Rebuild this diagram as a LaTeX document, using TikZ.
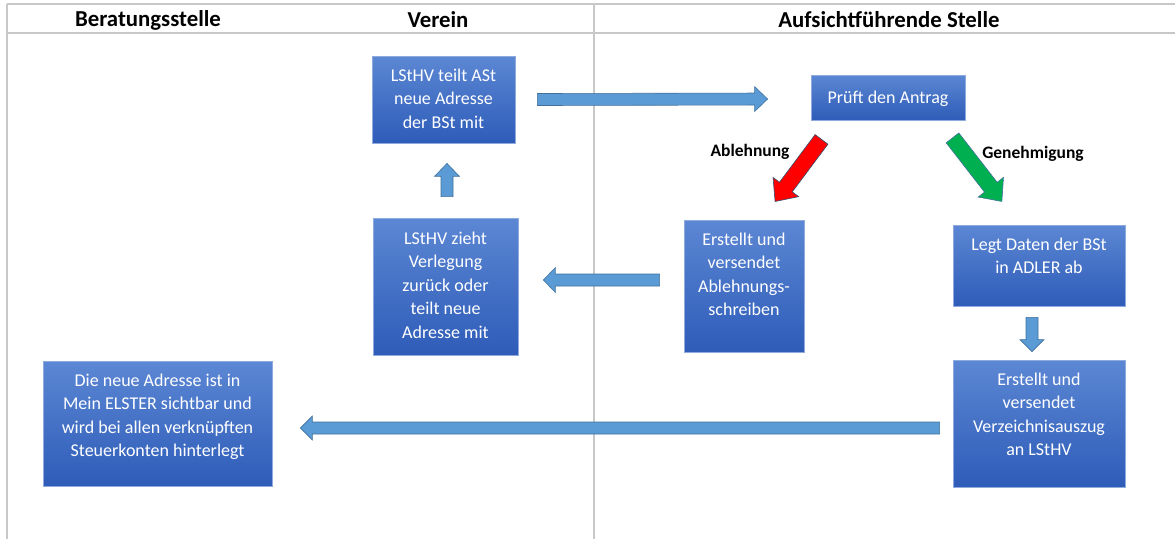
\documentclass[tikz,border=0pt]{standalone}
\usepackage{fontspec}
\setmainfont{Carlito}
\usetikzlibrary{calc}
\definecolor{boxtop}{RGB}{92,135,212}
\definecolor{boxbot}{RGB}{46,92,184}
\definecolor{boxedge}{RGB}{143,170,220}
\definecolor{arrfill}{RGB}{91,155,213}
\definecolor{arredge}{RGB}{65,113,156}
\definecolor{redfill}{RGB}{255,0,0}
\definecolor{greenfill}{RGB}{0,176,80}
\definecolor{gridline}{RGB}{200,200,200}
\newcommand\boxtext[4][25]{\parbox[c][#3pt][t]{#2pt}{\centering\rule{0pt}{#1pt}#4}}
% block arrow: #1 style, #2 from, #3 to, #4 shaft half width, #5 head half width, #6 head length
\newcommand\blockarrow[6]{%
  \pgfpointdiff{\pgfpointanchor{#2}{center}}{\pgfpointanchor{#3}{center}}%
  \pgfgetlastxy{\badx}{\bady}%
  \pgfmathsetmacro\bang{atan2(\bady,\badx)}%
  \pgfmathsetmacro\blen{veclen(\badx,\bady)}%
  \begin{scope}[shift={(#2)}, rotate=\bang]
    \draw[#1] (0,-#4) -- ({\blen-#6},-#4) -- ({\blen-#6},-#5) -- (\blen,0)
      -- ({\blen-#6},#5) -- ({\blen-#6},#4) -- (0,#4) -- cycle;
  \end{scope}}
\begin{document}
\begin{tikzpicture}[x=1pt,y=-1pt,
  box/.style={draw=boxedge, line width=0.8pt, top color=boxtop, bottom color=boxbot,
    inner sep=0pt, text=white, font=\fontsize{18}{23.5}\selectfont},
  head/.style={font=\bfseries\fontsize{22.8}{26}\selectfont, inner sep=0pt},
  lbl/.style={font=\bfseries\fontsize{17.5}{20}\selectfont, inner sep=0pt},
  grid/.style={draw=gridline, line width=1.3pt},
  barrow/.style={fill=arrfill, draw=arredge, line width=0.6pt, line join=miter},
  rarrow/.style={fill=redfill, draw=arredge!70!black, line width=0.6pt, line join=miter},
  garrow/.style={fill=greenfill, draw=arredge, line width=0.6pt, line join=miter}]
\useasboundingbox (0,0) rectangle (1176,539);
% table lines
\draw[grid] (7,4) -- (1175,4);
\draw[grid] (7,33) -- (1175,33);
\draw[grid] (7,4) -- (7,539);
\draw[grid] (594,4) -- (594,539);
% headers
\node[head] (h1) at (148,20) {Beratungsstelle};
\node[head] (h2) at (438,20) {Verein};
\node[head] (h3) at (889,20) {Aufsichtführende Stelle};
% boxes
\node[box] (b1) at (443.5,99.5) {\boxtext{143}{87}{LStHV teilt ASt\\neue Adresse\\der BSt mit}};
\node[box] (pa) at (888,97.5) {\boxtext[28]{154}{45}{Prüft den Antrag}};
\node[box] (ab) at (744,286) {\boxtext{120}{132}{Erstellt und\\versendet\\Ablehnungs-\\schreiben}};
\node[box] (lz) at (445.5,286.5) {\boxtext[26]{145}{137}{LStHV zieht\\Verlegung\\zurück oder\\teilt neue\\Adresse mit}};
\node[box] (ld) at (1039,265.5) {\boxtext{172}{81}{Legt Daten der BSt\\in ADLER ab}};
\node[box] (vz) at (1039,423.5) {\boxtext{172}{127}{Erstellt und\\versendet\\Verzeichnisauszug\\an LStHV}};
\node[box] (na) at (157.5,423.5) {\boxtext{229}{125}{Die neue Adresse ist in\\Mein ELSTER sichtbar und\\wird bei allen verknüpften\\Steuerkonten hinterlegt}};
% labels
\node[lbl] (l1) at (750,152) {Ablehnung};
\node[lbl] (l2) at (1033,154) {Genehmigung};
% arrow end points
\coordinate (r1s) at ($(b1.east)+(22,0)$);
\coordinate (r1e) at ($(pa.west)+(-43,1.5)$);
\coordinate (u1s) at ($(lz.north)+(1.5,-21)$);
\coordinate (u1e) at ($(b1.south)+(3.5,20)$);
\coordinate (m1s) at ($(ab.west)+(-24,-6)$);
\coordinate (m1e) at ($(lz.east)+(25,-6.5)$);
\coordinate (d1s) at ($(ld.south)+(-7,11)$);
\coordinate (d1e) at ($(vz.north)+(-7,-8)$);
\coordinate (g1s) at ($(vz.west)+(-13,4.5)$);
\coordinate (g1e) at ($(na.east)+(28,4.5)$);
\coordinate (rs) at ($(pa.south)+(-66.5,19)$);
\coordinate (re) at ($(ab.north)+(31,-18)$);
\coordinate (gs) at ($(pa.south)+(64.5,17.5)$);
\coordinate (ge) at ($(ld.north)+(-37,-23)$);
% block arrows
\blockarrow{barrow}{r1s}{r1e}{6}{12.5}{13}
\blockarrow{barrow}{u1s}{u1e}{6}{12.5}{13}
\blockarrow{barrow}{m1s}{m1e}{6}{12.5}{12}
\blockarrow{barrow}{d1s}{d1e}{6}{12}{12}
\blockarrow{barrow}{g1s}{g1e}{6}{12}{12}
\blockarrow{rarrow}{rs}{re}{8}{16}{18}
\blockarrow{garrow}{gs}{ge}{8}{16}{18}
\end{tikzpicture}
\end{document}
